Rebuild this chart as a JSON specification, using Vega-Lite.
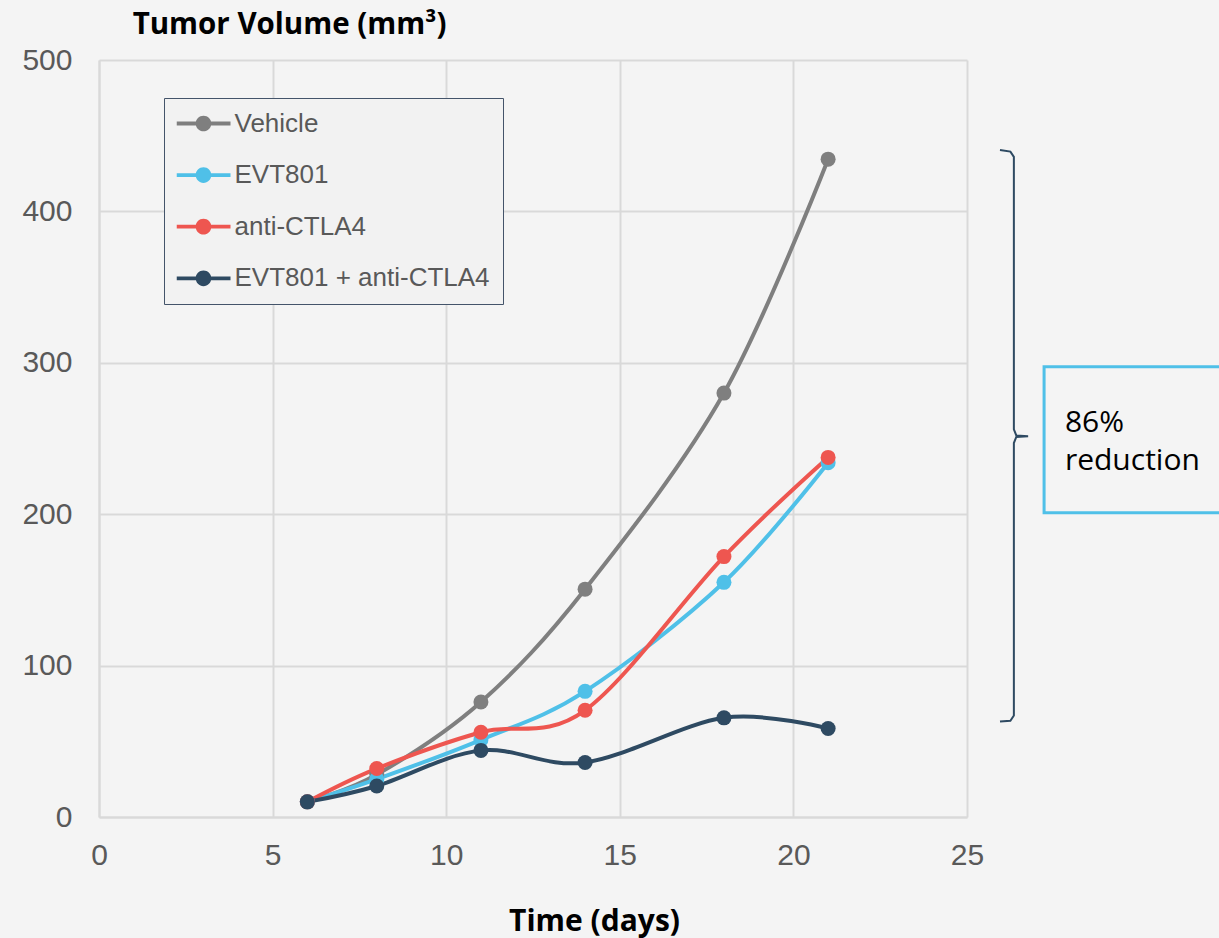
{
  "$schema": "https://vega.github.io/schema/vega-lite/v6.json",
  "width": 868,
  "height": 757,
  "autosize": "none",
  "padding": {"left": 99, "top": 60, "right": 252, "bottom": 121},
  "background": "#f4f4f4",
  "config": {"view": {"stroke": null, "fill": "#f4f4f4"}, "font": "Liberation Sans"},
  "datasets": {
    "series": [
      {"day": 6, "volume": 10, "group": "Vehicle"},
      {"day": 8, "volume": 28, "group": "Vehicle"},
      {"day": 11, "volume": 76, "group": "Vehicle"},
      {"day": 14, "volume": 150.5, "group": "Vehicle"},
      {"day": 18, "volume": 280, "group": "Vehicle"},
      {"day": 21, "volume": 434.5, "group": "Vehicle"},
      {"day": 6, "volume": 10, "group": "EVT801"},
      {"day": 8, "volume": 25, "group": "EVT801"},
      {"day": 11, "volume": 51, "group": "EVT801"},
      {"day": 14, "volume": 83, "group": "EVT801"},
      {"day": 18, "volume": 155, "group": "EVT801"},
      {"day": 21, "volume": 234, "group": "EVT801"},
      {"day": 6, "volume": 10, "group": "anti-CTLA4"},
      {"day": 8, "volume": 32, "group": "anti-CTLA4"},
      {"day": 11, "volume": 56, "group": "anti-CTLA4"},
      {"day": 14, "volume": 70.5, "group": "anti-CTLA4"},
      {"day": 18, "volume": 172, "group": "anti-CTLA4"},
      {"day": 21, "volume": 237.5, "group": "anti-CTLA4"},
      {"day": 6, "volume": 10, "group": "EVT801 + anti-CTLA4"},
      {"day": 8, "volume": 20.5, "group": "EVT801 + anti-CTLA4"},
      {"day": 11, "volume": 44, "group": "EVT801 + anti-CTLA4"},
      {"day": 14, "volume": 36, "group": "EVT801 + anti-CTLA4"},
      {"day": 18, "volume": 65.5, "group": "EVT801 + anti-CTLA4"},
      {"day": 21, "volume": 58.5, "group": "EVT801 + anti-CTLA4"}
    ],
    "bracket": [
      {"x": 25.95, "y": 440.6, "ord": 1},
      {"x": 26.25, "y": 439.5, "ord": 2},
      {"x": 26.35, "y": 436, "ord": 3},
      {"x": 26.35, "y": 256, "ord": 4},
      {"x": 26.42, "y": 252, "ord": 5},
      {"x": 26.76, "y": 251.5, "ord": 6},
      {"x": 26.42, "y": 251, "ord": 7},
      {"x": 26.35, "y": 247, "ord": 8},
      {"x": 26.35, "y": 67, "ord": 9},
      {"x": 26.25, "y": 63.6, "ord": 10},
      {"x": 25.95, "y": 63, "ord": 11}
    ],
    "box": [{"x": 27.22, "x2": 33, "y": 297.4, "y2": 201}],
    "note": [
      {"x": 27.82, "y": 260.4, "text": "86%"},
      {"x": 27.82, "y": 235.3, "text": "reduction"}
    ]
  },
  "layer": [
    {
      "data": {"name": "series"},
      "mark": {"type": "line", "interpolate": "cardinal", "strokeWidth": 4},
      "encoding": {
        "x": {
          "field": "day", "type": "quantitative",
          "scale": {"domain": [0, 25], "nice": false, "zero": false},
          "axis": {
            "values": [0, 5, 10, 15, 20, 25], "grid": true, "gridColor": "#d9d9d9", "gridWidth": 2,
            "domainColor": "#d9d9d9", "domainWidth": 2, "ticks": false, "labelOverlap": false, "labelFlush": false,
            "labelFontSize": 30, "labelColor": "#595959", "labelPadding": 23,
            "title": "Time (days)", "titleFont": "Open Sans", "titleFontSize": 30, "titleFontWeight": "bold",
            "titleColor": "#000000", "titleX": 495, "titleY": 104, "titleAlign": "center", "titleBaseline": "middle"
          }
        },
        "y": {
          "field": "volume", "type": "quantitative",
          "scale": {"domain": [0, 500], "nice": false},
          "axis": {
            "values": [0, 100, 200, 300, 400, 500], "grid": true, "gridColor": "#d9d9d9", "gridWidth": 2,
            "domainColor": "#d9d9d9", "domainWidth": 2, "ticks": false, "labelOverlap": false,
            "labelFontSize": 30, "labelColor": "#595959", "labelPadding": 27,
            "title": "Tumor Volume (mm³)", "titleFont": "Open Sans", "titleFontSize": 29.5, "titleFontWeight": "bold",
            "titleColor": "#000000", "titleAngle": 0, "titleX": 190, "titleY": -36,
            "titleAlign": "center", "titleBaseline": "middle"
          }
        },
        "color": {
          "field": "group", "type": "nominal",
          "scale": {
            "domain": ["Vehicle", "EVT801", "anti-CTLA4", "EVT801 + anti-CTLA4"],
            "range": ["#7f7f7f", "#4fc0e8", "#ee5650", "#2e4a62"]
          },
          "legend": {
            "orient": "none", "legendX": 65, "legendY": 38, "title": null,
            "symbolType": "M-1,-0.07H1V0.07H-1Z M0.29,0A0.29,0.29 0 1,1 -0.29,0A0.29,0.29 0 1,1 0.29,0Z",
            "symbolSize": 2916, "symbolStrokeWidth": 0, "symbolOpacity": 1,
            "labelFontSize": 26, "labelColor": "#595959", "labelOffset": 4, "labelFont": "Liberation Sans",
            "labelLimit": 500,
            "padding": 12.5, "strokeColor": "#44546a", "fillColor": "#f2f2f2",
            "clipHeight": 26, "rowPadding": 25.6
          }
        }
      }
    },
    {
      "data": {"name": "series"},
      "mark": {"type": "point", "filled": true, "opacity": 1, "size": 225, "strokeWidth": 0},
      "encoding": {
        "x": {"field": "day", "type": "quantitative"},
        "y": {"field": "volume", "type": "quantitative"},
        "color": {"field": "group", "type": "nominal"}
      }
    },
    {
      "data": {"name": "bracket"},
      "mark": {"type": "line", "color": "#2e4a62", "strokeWidth": 2, "interpolate": "linear"},
      "encoding": {
        "x": {"field": "x", "type": "quantitative"},
        "y": {"field": "y", "type": "quantitative"},
        "order": {"field": "ord"}
      }
    },
    {
      "data": {"name": "box"},
      "mark": {"type": "rect", "fill": null, "fillOpacity": 0, "stroke": "#4fc0e8", "strokeWidth": 3},
      "encoding": {
        "x": {"field": "x", "type": "quantitative"},
        "x2": {"field": "x2"},
        "y": {"field": "y", "type": "quantitative"},
        "y2": {"field": "y2"}
      }
    },
    {
      "data": {"name": "note"},
      "mark": {"type": "text", "align": "left", "baseline": "middle", "font": "Open Sans", "fontSize": 30, "color": "#000000"},
      "encoding": {
        "x": {"field": "x", "type": "quantitative"},
        "y": {"field": "y", "type": "quantitative"},
        "text": {"field": "text"}
      }
    }
  ]
}
